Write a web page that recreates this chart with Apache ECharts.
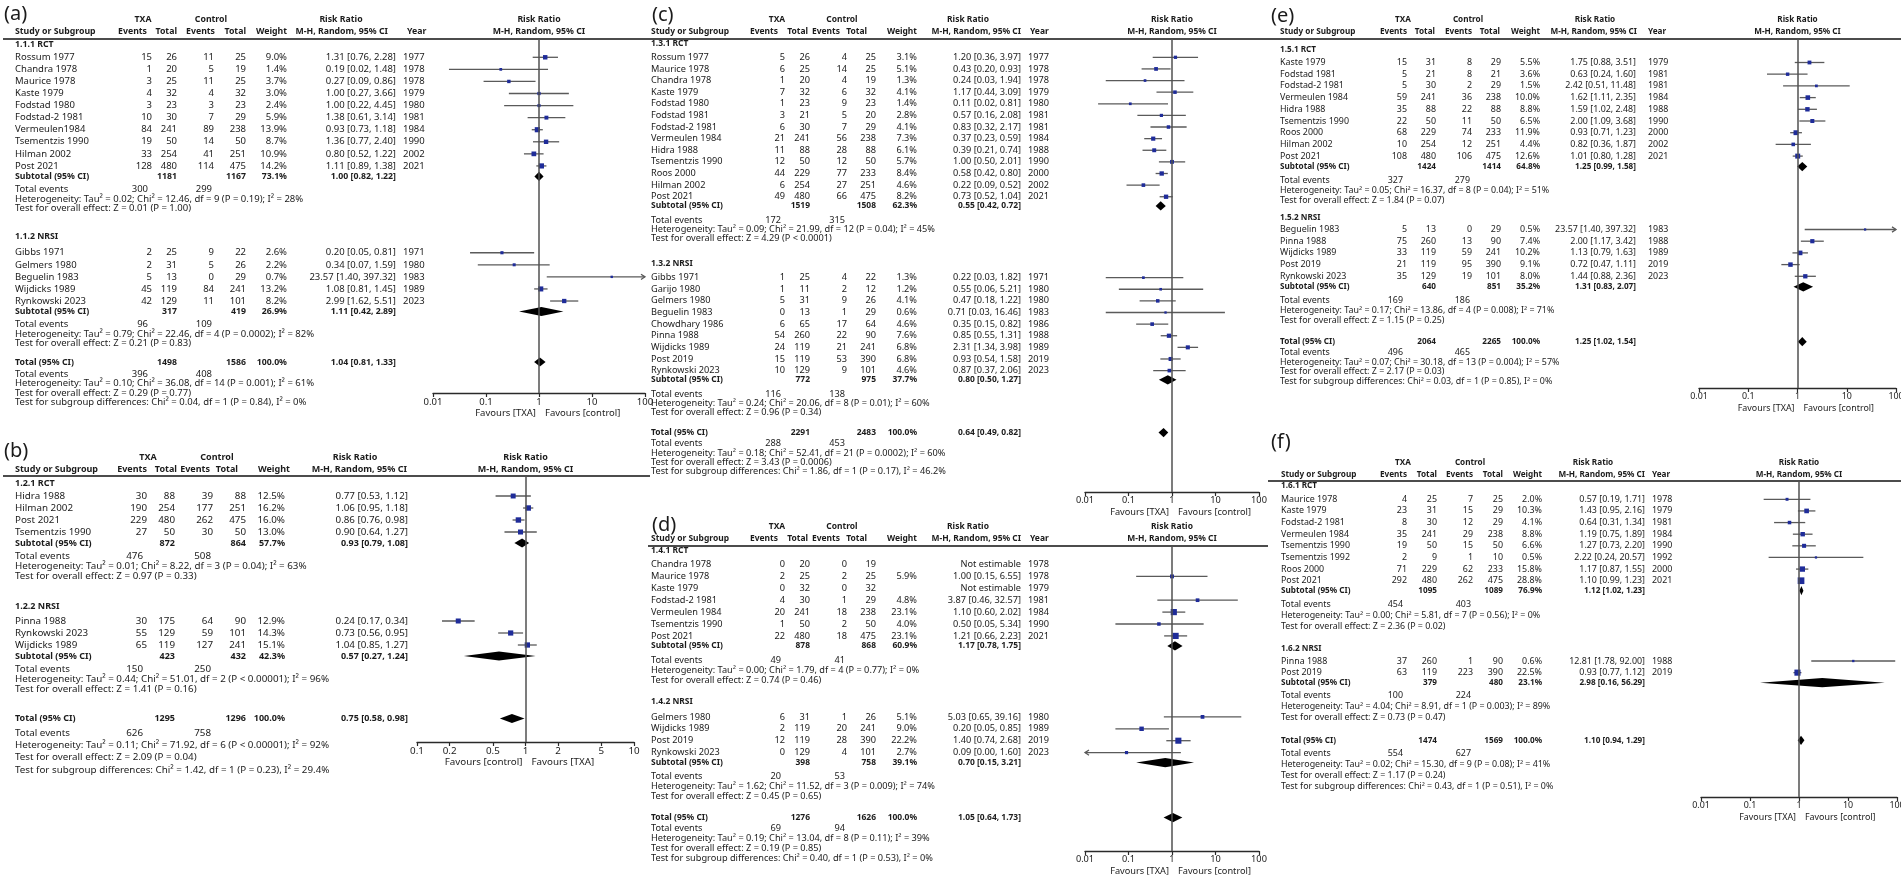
<!DOCTYPE html>
<html><head><meta charset="utf-8">
<script src="https://cdn.jsdelivr.net/npm/echarts@6/dist/echarts.min.js"></script>
<style>html,body{margin:0;padding:0;background:#fff}#c{width:1901px;height:880px}</style>
</head><body><div id="c"></div><script>
// ---------------- DATA ----------------
// study rows: [name, TXA events, TXA total, control events, control total, weight %, RR, lower, upper, year]
// subtotal: [TXA total, control total, weight %, RR, lower, upper, TXA events, control events]
const HEAD_TOP = ['TXA', 'Control', 'Risk Ratio'];
const HEAD_COLS = ['Study or Subgroup', 'Events', 'Total', 'Events', 'Total', 'Weight', 'M-H, Random, 95% CI', 'Year'];
const PLOT_HEAD = ['Risk Ratio', 'M-H, Random, 95% CI'];
const FAV_TXA_FIRST = ['Favours [TXA]', 'Favours [control]'];
const FAV_CONTROL_FIRST = ['Favours [control]', 'Favours [TXA]'];
const TICKS_DECADES = [0.01, 0.1, 1, 10, 100];
const TICKS_FINE = [0.1, 0.2, 0.5, 1, 2, 5, 10];

// (a)
const A_GROUPS = ['1.1.1 RCT', '1.1.2 NRSI'];
const A_RCT = [
  ['Rossum 1977', 15, 26, 11, 25, 9.0, 1.31, 0.76, 2.28, 1977],
  ['Chandra 1978', 1, 20, 5, 19, 1.4, 0.19, 0.02, 1.48, 1978],
  ['Maurice 1978', 3, 25, 11, 25, 3.7, 0.27, 0.09, 0.86, 1978],
  ['Kaste 1979', 4, 32, 4, 32, 3.0, 1.00, 0.27, 3.66, 1979],
  ['Fodstad 1980', 3, 23, 3, 23, 2.4, 1.00, 0.22, 4.45, 1980],
  ['Fodstad-2 1981', 10, 30, 7, 29, 5.9, 1.38, 0.61, 3.14, 1981],
  ['Vermeulen1984', 84, 241, 89, 238, 13.9, 0.93, 0.73, 1.18, 1984],
  ['Tsementzis 1990', 19, 50, 14, 50, 8.7, 1.36, 0.77, 2.40, 1990],
  ['Hilman 2002', 33, 254, 41, 251, 10.9, 0.80, 0.52, 1.22, 2002],
  ['Post 2021', 128, 480, 114, 475, 14.2, 1.11, 0.89, 1.38, 2021]
];
const A_RCT_SUB = [1181, 1167, 73.1, 1.00, 0.82, 1.22, 300, 299];
const A_RCT_STATS = ['Tau² = 0.02; Chi² = 12.46, df = 9 (P = 0.19); I² = 28%', 'Z = 0.01 (P = 1.00)'];
const A_NRSI = [
  ['Gibbs 1971', 2, 25, 9, 22, 2.6, 0.20, 0.05, 0.81, 1971],
  ['Gelmers 1980', 2, 31, 5, 26, 2.2, 0.34, 0.07, 1.59, 1980],
  ['Beguelin 1983', 5, 13, 0, 29, 0.7, 23.57, 1.40, 397.32, 1983],
  ['Wijdicks 1989', 45, 119, 84, 241, 13.2, 1.08, 0.81, 1.45, 1989],
  ['Rynkowski 2023', 42, 129, 11, 101, 8.2, 2.99, 1.62, 5.51, 2023]
];
const A_NRSI_SUB = [317, 419, 26.9, 1.11, 0.42, 2.89, 96, 109];
const A_NRSI_STATS = ['Tau² = 0.79; Chi² = 22.46, df = 4 (P = 0.0002); I² = 82%', 'Z = 0.21 (P = 0.83)'];
const A_TOTAL = [1498, 1586, 100.0, 1.04, 0.81, 1.33, 396, 408];
const A_TOTAL_STATS = ['Tau² = 0.10; Chi² = 36.08, df = 14 (P = 0.001); I² = 61%', 'Z = 0.29 (P = 0.77)', 'Chi² = 0.04, df = 1 (P = 0.84), I² = 0%'];

// (b)
const B_GROUPS = ['1.2.1 RCT', '1.2.2 NRSI'];
const B_RCT = [
  ['Hidra 1988', 30, 88, 39, 88, 12.5, 0.77, 0.53, 1.12, null],
  ['Hilman 2002', 190, 254, 177, 251, 16.2, 1.06, 0.95, 1.18, null],
  ['Post 2021', 229, 480, 262, 475, 16.0, 0.86, 0.76, 0.98, null],
  ['Tsementzis 1990', 27, 50, 30, 50, 13.0, 0.90, 0.64, 1.27, null]
];
const B_RCT_SUB = [872, 864, 57.7, 0.93, 0.79, 1.08, 476, 508];
const B_RCT_STATS = ['Tau² = 0.01; Chi² = 8.22, df = 3 (P = 0.04); I² = 63%', 'Z = 0.97 (P = 0.33)'];
const B_NRSI = [
  ['Pinna 1988', 30, 175, 64, 90, 12.9, 0.24, 0.17, 0.34, null],
  ['Rynkowski 2023', 55, 129, 59, 101, 14.3, 0.73, 0.56, 0.95, null],
  ['Wijdicks 1989', 65, 119, 127, 241, 15.1, 1.04, 0.85, 1.27, null]
];
const B_NRSI_SUB = [423, 432, 42.3, 0.57, 0.27, 1.24, 150, 250];
const B_NRSI_STATS = ['Tau² = 0.44; Chi² = 51.01, df = 2 (P < 0.00001); I² = 96%', 'Z = 1.41 (P = 0.16)'];
const B_TOTAL = [1295, 1296, 100.0, 0.75, 0.58, 0.98, 626, 758];
const B_TOTAL_STATS = ['Tau² = 0.11; Chi² = 71.92, df = 6 (P < 0.00001); I² = 92%', 'Z = 2.09 (P = 0.04)', 'Chi² = 1.42, df = 1 (P = 0.23), I² = 29.4%'];

// (c)
const C_GROUPS = ['1.3.1 RCT', '1.3.2 NRSI'];
const C_RCT = [
  ['Rossum 1977', 5, 26, 4, 25, 3.1, 1.20, 0.36, 3.97, 1977],
  ['Maurice 1978', 6, 25, 14, 25, 5.1, 0.43, 0.20, 0.93, 1978],
  ['Chandra 1978', 1, 20, 4, 19, 1.3, 0.24, 0.03, 1.94, 1978],
  ['Kaste 1979', 7, 32, 6, 32, 4.1, 1.17, 0.44, 3.09, 1979],
  ['Fodstad 1980', 1, 23, 9, 23, 1.4, 0.11, 0.02, 0.81, 1980],
  ['Fodstad 1981', 3, 21, 5, 20, 2.8, 0.57, 0.16, 2.08, 1981],
  ['Fodstad-2 1981', 6, 30, 7, 29, 4.1, 0.83, 0.32, 2.17, 1981],
  ['Vermeulen 1984', 21, 241, 56, 238, 7.3, 0.37, 0.23, 0.59, 1984],
  ['Hidra 1988', 11, 88, 28, 88, 6.1, 0.39, 0.21, 0.74, 1988],
  ['Tsementzis 1990', 12, 50, 12, 50, 5.7, 1.00, 0.50, 2.01, 1990],
  ['Roos 2000', 44, 229, 77, 233, 8.4, 0.58, 0.42, 0.80, 2000],
  ['Hilman 2002', 6, 254, 27, 251, 4.6, 0.22, 0.09, 0.52, 2002],
  ['Post 2021', 49, 480, 66, 475, 8.2, 0.73, 0.52, 1.04, 2021]
];
const C_RCT_SUB = [1519, 1508, 62.3, 0.55, 0.42, 0.72, 172, 315];
const C_RCT_STATS = ['Tau² = 0.09; Chi² = 21.99, df = 12 (P = 0.04); I² = 45%', 'Z = 4.29 (P < 0.0001)'];
const C_NRSI = [
  ['Gibbs 1971', 1, 25, 4, 22, 1.3, 0.22, 0.03, 1.82, 1971],
  ['Garijo 1980', 1, 11, 2, 12, 1.2, 0.55, 0.06, 5.21, 1980],
  ['Gelmers 1980', 5, 31, 9, 26, 4.1, 0.47, 0.18, 1.22, 1980],
  ['Beguelin 1983', 0, 13, 1, 29, 0.6, 0.71, 0.03, 16.46, 1983],
  ['Chowdhary 1986', 6, 65, 17, 64, 4.6, 0.35, 0.15, 0.82, 1986],
  ['Pinna 1988', 54, 260, 22, 90, 7.6, 0.85, 0.55, 1.31, 1988],
  ['Wijdicks 1989', 24, 119, 21, 241, 6.8, 2.31, 1.34, 3.98, 1989],
  ['Post 2019', 15, 119, 53, 390, 6.8, 0.93, 0.54, 1.58, 2019],
  ['Rynkowski 2023', 10, 129, 9, 101, 4.6, 0.87, 0.37, 2.06, 2023]
];
const C_NRSI_SUB = [772, 975, 37.7, 0.80, 0.50, 1.27, 116, 138];
const C_NRSI_STATS = ['Tau² = 0.24; Chi² = 20.06, df = 8 (P = 0.01); I² = 60%', 'Z = 0.96 (P = 0.34)'];
const C_TOTAL = [2291, 2483, 100.0, 0.64, 0.49, 0.82, 288, 453];
const C_TOTAL_STATS = ['Tau² = 0.18; Chi² = 52.41, df = 21 (P = 0.0002); I² = 60%', 'Z = 3.43 (P = 0.0006)', 'Chi² = 1.86, df = 1 (P = 0.17), I² = 46.2%'];

// (d)
const D_GROUPS = ['1.4.1 RCT', '1.4.2 NRSI'];
const D_RCT = [
  ['Chandra 1978', 0, 20, 0, 19, null, null, null, null, 1978],
  ['Maurice 1978', 2, 25, 2, 25, 5.9, 1.00, 0.15, 6.55, 1978],
  ['Kaste 1979', 0, 32, 0, 32, null, null, null, null, 1979],
  ['Fodstad-2 1981', 4, 30, 1, 29, 4.8, 3.87, 0.46, 32.57, 1981],
  ['Vermeulen 1984', 20, 241, 18, 238, 23.1, 1.10, 0.60, 2.02, 1984],
  ['Tsementzis 1990', 1, 50, 2, 50, 4.0, 0.50, 0.05, 5.34, 1990],
  ['Post 2021', 22, 480, 18, 475, 23.1, 1.21, 0.66, 2.23, 2021]
];
const D_RCT_SUB = [878, 868, 60.9, 1.17, 0.78, 1.75, 49, 41];
const D_RCT_STATS = ['Tau² = 0.00; Chi² = 1.79, df = 4 (P = 0.77); I² = 0%', 'Z = 0.74 (P = 0.46)'];
const D_NRSI = [
  ['Gelmers 1980', 6, 31, 1, 26, 5.1, 5.03, 0.65, 39.16, 1980],
  ['Wijdicks 1989', 2, 119, 20, 241, 9.0, 0.20, 0.05, 0.85, 1989],
  ['Post 2019', 12, 119, 28, 390, 22.2, 1.40, 0.74, 2.68, 2019],
  ['Rynkowski 2023', 0, 129, 4, 101, 2.7, 0.09, 0.00, 1.60, 2023]
];
const D_NRSI_SUB = [398, 758, 39.1, 0.70, 0.15, 3.21, 20, 53];
const D_NRSI_STATS = ['Tau² = 1.62; Chi² = 11.52, df = 3 (P = 0.009); I² = 74%', 'Z = 0.45 (P = 0.65)'];
const D_TOTAL = [1276, 1626, 100.0, 1.05, 0.64, 1.73, 69, 94];
const D_TOTAL_STATS = ['Tau² = 0.19; Chi² = 13.04, df = 8 (P = 0.11); I² = 39%', 'Z = 0.19 (P = 0.85)', 'Chi² = 0.40, df = 1 (P = 0.53), I² = 0%'];

// (e)
const E_GROUPS = ['1.5.1 RCT', '1.5.2 NRSI'];
const E_RCT = [
  ['Kaste 1979', 15, 31, 8, 29, 5.5, 1.75, 0.88, 3.51, 1979],
  ['Fodstad 1981', 5, 21, 8, 21, 3.6, 0.63, 0.24, 1.60, 1981],
  ['Fodstad-2 1981', 5, 30, 2, 29, 1.5, 2.42, 0.51, 11.48, 1981],
  ['Vermeulen 1984', 59, 241, 36, 238, 10.0, 1.62, 1.11, 2.35, 1984],
  ['Hidra 1988', 35, 88, 22, 88, 8.8, 1.59, 1.02, 2.48, 1988],
  ['Tsementzis 1990', 22, 50, 11, 50, 6.5, 2.00, 1.09, 3.68, 1990],
  ['Roos 2000', 68, 229, 74, 233, 11.9, 0.93, 0.71, 1.23, 2000],
  ['Hilman 2002', 10, 254, 12, 251, 4.4, 0.82, 0.36, 1.87, 2002],
  ['Post 2021', 108, 480, 106, 475, 12.6, 1.01, 0.80, 1.28, 2021]
];
const E_RCT_SUB = [1424, 1414, 64.8, 1.25, 0.99, 1.58, 327, 279];
const E_RCT_STATS = ['Tau² = 0.05; Chi² = 16.37, df = 8 (P = 0.04); I² = 51%', 'Z = 1.84 (P = 0.07)'];
const E_NRSI = [
  ['Beguelin 1983', 5, 13, 0, 29, 0.5, 23.57, 1.40, 397.32, 1983],
  ['Pinna 1988', 75, 260, 13, 90, 7.4, 2.00, 1.17, 3.42, 1988],
  ['Wijdicks 1989', 33, 119, 59, 241, 10.2, 1.13, 0.79, 1.63, 1989],
  ['Post 2019', 21, 119, 95, 390, 9.1, 0.72, 0.47, 1.11, 2019],
  ['Rynkowski 2023', 35, 129, 19, 101, 8.0, 1.44, 0.88, 2.36, 2023]
];
const E_NRSI_SUB = [640, 851, 35.2, 1.31, 0.83, 2.07, 169, 186];
const E_NRSI_STATS = ['Tau² = 0.17; Chi² = 13.86, df = 4 (P = 0.008); I² = 71%', 'Z = 1.15 (P = 0.25)'];
const E_TOTAL = [2064, 2265, 100.0, 1.25, 1.02, 1.54, 496, 465];
const E_TOTAL_STATS = ['Tau² = 0.07; Chi² = 30.18, df = 13 (P = 0.004); I² = 57%', 'Z = 2.17 (P = 0.03)', 'Chi² = 0.03, df = 1 (P = 0.85), I² = 0%'];

// (f)
const F_GROUPS = ['1.6.1 RCT', '1.6.2 NRSI'];
const F_RCT = [
  ['Maurice 1978', 4, 25, 7, 25, 2.0, 0.57, 0.19, 1.71, 1978],
  ['Kaste 1979', 23, 31, 15, 29, 10.3, 1.43, 0.95, 2.16, 1979],
  ['Fodstad-2 1981', 8, 30, 12, 29, 4.1, 0.64, 0.31, 1.34, 1981],
  ['Vermeulen 1984', 35, 241, 29, 238, 8.8, 1.19, 0.75, 1.89, 1984],
  ['Tsementzis 1990', 19, 50, 15, 50, 6.6, 1.27, 0.73, 2.20, 1990],
  ['Tsementzis 1992', 2, 9, 1, 10, 0.5, 2.22, 0.24, 20.57, 1992],
  ['Roos 2000', 71, 229, 62, 233, 15.8, 1.17, 0.87, 1.55, 2000],
  ['Post 2021', 292, 480, 262, 475, 28.8, 1.10, 0.99, 1.23, 2021]
];
const F_RCT_SUB = [1095, 1089, 76.9, 1.12, 1.02, 1.23, 454, 403];
const F_RCT_STATS = ['Tau² = 0.00; Chi² = 5.81, df = 7 (P = 0.56); I² = 0%', 'Z = 2.36 (P = 0.02)'];
const F_NRSI = [
  ['Pinna 1988', 37, 260, 1, 90, 0.6, 12.81, 1.78, 92.00, 1988],
  ['Post 2019', 63, 119, 223, 390, 22.5, 0.93, 0.77, 1.12, 2019]
];
const F_NRSI_SUB = [379, 480, 23.1, 2.98, 0.16, 56.29, 100, 224];
const F_NRSI_STATS = ['Tau² = 4.04; Chi² = 8.91, df = 1 (P = 0.003); I² = 89%', 'Z = 0.73 (P = 0.47)'];
const F_TOTAL = [1474, 1569, 100.0, 1.10, 0.94, 1.29, 554, 627];
const F_TOTAL_STATS = ['Tau² = 0.02; Chi² = 15.30, df = 9 (P = 0.08); I² = 41%', 'Z = 1.17 (P = 0.24)', 'Chi² = 0.43, df = 1 (P = 0.51), I² = 0%'];

// ---------------- PANELS (composition of the arrays above) ----------------
const PANELS = [
  { label: '(a)', groups: A_GROUPS, subs: [A_RCT, A_NRSI], sums: [A_RCT_SUB, A_NRSI_SUB], stats: [A_RCT_STATS, A_NRSI_STATS], total: A_TOTAL, totalStats: A_TOTAL_STATS, ticks: TICKS_DECADES, fav: FAV_TXA_FIRST },
  { label: '(b)', groups: B_GROUPS, subs: [B_RCT, B_NRSI], sums: [B_RCT_SUB, B_NRSI_SUB], stats: [B_RCT_STATS, B_NRSI_STATS], total: B_TOTAL, totalStats: B_TOTAL_STATS, ticks: TICKS_FINE, fav: FAV_CONTROL_FIRST },
  { label: '(c)', groups: C_GROUPS, subs: [C_RCT, C_NRSI], sums: [C_RCT_SUB, C_NRSI_SUB], stats: [C_RCT_STATS, C_NRSI_STATS], total: C_TOTAL, totalStats: C_TOTAL_STATS, ticks: TICKS_DECADES, fav: FAV_TXA_FIRST },
  { label: '(d)', groups: D_GROUPS, subs: [D_RCT, D_NRSI], sums: [D_RCT_SUB, D_NRSI_SUB], stats: [D_RCT_STATS, D_NRSI_STATS], total: D_TOTAL, totalStats: D_TOTAL_STATS, ticks: TICKS_DECADES, fav: FAV_TXA_FIRST },
  { label: '(e)', groups: E_GROUPS, subs: [E_RCT, E_NRSI], sums: [E_RCT_SUB, E_NRSI_SUB], stats: [E_RCT_STATS, E_NRSI_STATS], total: E_TOTAL, totalStats: E_TOTAL_STATS, ticks: TICKS_DECADES, fav: FAV_TXA_FIRST },
  { label: '(f)', groups: F_GROUPS, subs: [F_RCT, F_NRSI], sums: [F_RCT_SUB, F_NRSI_SUB], stats: [F_RCT_STATS, F_NRSI_STATS], total: F_TOTAL, totalStats: F_TOTAL_STATS, ticks: TICKS_DECADES, fav: FAV_TXA_FIRST }
];

// ---------------- LAYOUT (positions / sizes only) ----------------
const colsCD = { name: 651, evT: 785, totT: 810, evC: 847, totC: 876, w: 917, rr: 1021, yr: 1028 };
const hcolsCD = { evT: 778, totT: 808, evC: 840, totC: 867, w: 917, rr: 1021, yr: 1030 };
const LAYOUT = [
  { lab: [4, 14], fs: 9.5, yU: 39, r1: -19, r2: -7, ul: [3, 648],
    col: { name: 15, evT: 152, totT: 177, evC: 214, totC: 246, w: 287, rr: 396, yr: 403 },
    hcol: { evT: 147, totT: 177, evC: 215, totC: 246, w: 287, rr: 388, yr: 407 },
    htop: { txa: 143, ctl: 211, rr: 341 },
    plot: { left: 433, width: 212, axisY: 393, min: 0.01, max: 100, custom: false },
    g: { hdr1: 6, first: [12.3, 16], p: 12.07, sub: 10.5, te: 13.2, h: 9.4, grp: 28.3, tot: 18.5, te2: 12, h2: 9.4 } },
  { lab: [4, 451], fs: 9.8, yU: 476, r1: -19, r2: -7, ul: [3, 650],
    col: { name: 15, evT: 147, totT: 175, evC: 213, totC: 246, w: 285, rr: 408, yr: null },
    hcol: { evT: 147, totT: 177, evC: 210, totC: 238, w: 290, rr: 407, yr: null },
    htop: { txa: 148, ctl: 217, rr: 355 },
    plot: { left: 417, width: 217, axisY: 742, min: 0.1, max: 10, custom: true },
    g: { hdr1: 7, first: [13, 15], p: 12, sub: 11, te: 13.5, h: 10, grp: 29.5, tot: 29, te2: 14.5, h2: 12.3 } },
  { lab: [652, 15], fs: 9.2, yU: 39, r1: -19, r2: -7, ul: [648, 1268],
    col: colsCD, hcol: hcolsCD, htop: { txa: 777, ctl: 842, rr: 968 },
    plot: { left: 1085, width: 174, axisY: 492, min: 0.01, max: 100, custom: false },
    g: { hdr1: 4.3, first: [14, 14.4], p: 11.62, sub: 9.2, te: 14.2, h: 9.3, grp: 24.5, tot: 20, te2: 11, h2: 9.3 } },
  { lab: [652, 525], fs: 9.2, yU: 546, r1: -19, r2: -7, ul: [648, 1268],
    col: colsCD, hcol: hcolsCD, htop: { txa: 777, ctl: 842, rr: 968 },
    plot: { left: 1085, width: 174, axisY: 851, min: 0.01, max: 100, custom: false },
    g: { hdr1: 5, first: [13.5, 15], p: 11.9, sub: 10, te: 14, h: 10, grp: 22, tot: 21, te2: 11, h2: 10 } },
  { lab: [1271, 16], fs: 8.9, yU: 39, r1: -19, r2: -7, ul: [1268, 1901],
    col: { name: 1280, evT: 1407, totT: 1436, evC: 1472, totC: 1501, w: 1540, rr: 1636, yr: 1648 },
    hcol: { evT: 1407, totT: 1435, evC: 1472, totC: 1500, w: 1540, rr: 1637, yr: 1648 },
    htop: { txa: 1403, ctl: 1468, rr: 1595 },
    plot: { left: 1699, width: 197, axisY: 388, min: 0.01, max: 100, custom: false },
    g: { hdr1: 11, first: [12.5, 11.5], p: 11.7, sub: 10.5, te: 14, h: 9.7, grp: 18, tot: 21.5, te2: 10.6, h2: 9.7 } },
  { lab: [1271, 442], fs: 8.9, yU: 481, r1: -18, r2: -6, ul: [1268, 1901],
    col: { name: 1281, evT: 1407, totT: 1437, evC: 1473, totC: 1503, w: 1542, rr: 1645, yr: 1652 },
    hcol: { evT: 1407, totT: 1437, evC: 1473, totC: 1503, w: 1542, rr: 1645, yr: 1652 },
    htop: { txa: 1403, ctl: 1470, rr: 1593 },
    plot: { left: 1701, width: 196, axisY: 797, min: 0.01, max: 100, custom: false },
    g: { hdr1: 5, first: [13.3, 12.7], p: 11.63, sub: 10, te: 13.3, h: 11, grp: 22.3, tot: 22.4, te2: 13.3, h2: 11 } }
];

const FONT = "'Noto Sans', 'DejaVu Sans', sans-serif";
const INK = '#1b1b1b';
const CI_COLOR = '#5a5a5a';
const SQUARE = '#1f2c99';
const BOLD_SCALE = 0.92;

function fmtRR(rr, lo, hi) { return rr.toFixed(2) + ' [' + lo.toFixed(2) + ', ' + hi.toFixed(2) + ']'; }

function buildLines(P, L) {
  const g = L.g, out = [];
  out.push({ k: 'head', y: L.yU });
  let y = L.yU + g.hdr1;
  for (let gi = 0; gi < 2; gi++) {
    if (gi === 1) y += g.grp;
    out.push({ k: 'grp', y, text: P.groups[gi] });
    P.subs[gi].forEach((r, i) => { y += (i === 0 ? g.first[gi] : g.p); out.push({ k: 'study', y, r }); });
    y += g.sub; out.push({ k: 'sub', y, s: P.sums[gi], text: 'Subtotal (95% CI)' });
    y += g.te; out.push({ k: 'te', y, s: P.sums[gi] });
    y += g.h; out.push({ k: 'txt', y, text: 'Heterogeneity: ' + P.stats[gi][0] });
    y += g.h; out.push({ k: 'txt', y, text: 'Test for overall effect: ' + P.stats[gi][1] });
  }
  y += g.tot; out.push({ k: 'sub', y, s: P.total, text: 'Total (95% CI)' });
  y += g.te2; out.push({ k: 'te', y, s: P.total });
  y += g.h2; out.push({ k: 'txt', y, text: 'Heterogeneity: ' + P.totalStats[0] });
  y += g.h2; out.push({ k: 'txt', y, text: 'Test for overall effect: ' + P.totalStats[1] });
  y += g.h2; out.push({ k: 'txt', y, text: 'Test for subgroup differences: ' + P.totalStats[2] });
  out.push({ k: 'fav', y: L.plot.axisY + 20 });
  return out;
}

function tableRenderer(P, L, lines) {
  return function (params, api) {
    const l = lines[params.dataIndex];
    const pt = api.coord([1, l.y - L.yU]);
    const y = pt[1], x1 = pt[0];
    const c = L.col, kids = [];
    const T = (s, x, yy, align, bold, size) => kids.push({ type: 'text', silent: true, style: {
      text: String(s), x: x, y: yy, align: align, verticalAlign: 'middle', fontFamily: FONT,
      fontSize: size || (bold ? L.fs * BOLD_SCALE : L.fs), fontWeight: bold ? 'bold' : 'normal', fill: INK } });
    if (l.k === 'head') {
      const y1 = y + L.r1, y2 = y + L.r2, h = L.hcol;
      T(P.label, L.lab[0], L.lab[1], 'left', false, 20);
      T(HEAD_TOP[0], L.htop.txa, y1, 'center', true);
      T(HEAD_TOP[1], L.htop.ctl, y1, 'center', true);
      T(HEAD_TOP[2], L.htop.rr, y1, 'center', true);
      T(PLOT_HEAD[0], x1, y1, 'center', true);
      T(PLOT_HEAD[1], x1, y2, 'center', true);
      T(HEAD_COLS[0], c.name, y2, 'left', true);
      T(HEAD_COLS[1], h.evT, y2, 'right', true);
      T(HEAD_COLS[2], h.totT, y2, 'right', true);
      T(HEAD_COLS[3], h.evC, y2, 'right', true);
      T(HEAD_COLS[4], h.totC, y2, 'right', true);
      T(HEAD_COLS[5], h.w, y2, 'right', true);
      T(HEAD_COLS[6], h.rr, y2, 'right', true);
      if (h.yr != null) T(HEAD_COLS[7], h.yr, y2, 'left', true);
      kids.push({ type: 'line', silent: true, shape: { x1: L.ul[0], y1: y, x2: L.ul[1], y2: y }, style: { stroke: '#111', lineWidth: 1.5 } });
    } else if (l.k === 'grp') {
      T(l.text, c.name, y, 'left', true);
    } else if (l.k === 'study') {
      const r = l.r;
      T(r[0], c.name, y, 'left');
      T(r[1], c.evT, y, 'right'); T(r[2], c.totT, y, 'right');
      T(r[3], c.evC, y, 'right'); T(r[4], c.totC, y, 'right');
      if (r[5] != null) T(r[5].toFixed(1) + '%', c.w, y, 'right');
      T(r[6] == null ? 'Not estimable' : fmtRR(r[6], r[7], r[8]), c.rr, y, 'right');
      if (c.yr != null && r[9] != null) T(r[9], c.yr, y, 'left');
    } else if (l.k === 'sub') {
      const s = l.s;
      T(l.text, c.name, y, 'left', true);
      T(s[0], c.totT, y, 'right', true); T(s[1], c.totC, y, 'right', true);
      T(s[2].toFixed(1) + '%', c.w, y, 'right', true);
      T(fmtRR(s[3], s[4], s[5]), c.rr, y, 'right', true);
    } else if (l.k === 'te') {
      T('Total events', c.name, y, 'left');
      T(l.s[6], c.evT - 4, y, 'right'); T(l.s[7], c.evC - 2, y, 'right');
    } else if (l.k === 'txt') {
      T(l.text, c.name, y, 'left');
    } else if (l.k === 'fav') {
      T(P.fav[0], x1 - 3, y, 'right');
      T(P.fav[1], x1 + 6, y, 'left');
    }
    return { type: 'group', children: kids };
  };
}

function renderForest(params, api) {
  const lo = api.value(0), hi = api.value(1), est = api.value(2), yv = api.value(3), w = api.value(4), kind = api.value(5);
  const cs = params.coordSys;
  const xmin = cs.x, xmax = cs.x + cs.width;
  const y = api.coord([1, yv])[1];
  const px = v => (v > 0 ? api.coord([v, yv])[0] : -Infinity);
  let a = px(lo), b = px(hi);
  const e = px(est);
  const kids = [];
  if (kind === 1) {
    const hh = 4.6;
    kids.push({ type: 'polygon', shape: { points: [[a, y], [e, y - hh], [b, y], [e, y + hh]] }, style: { fill: '#000' } });
  } else {
    const clipL = a < xmin, clipR = b > xmax;
    a = Math.max(a, xmin); b = Math.min(b, xmax);
    kids.push({ type: 'line', shape: { x1: a, y1: y, x2: b, y2: y }, style: { stroke: CI_COLOR, lineWidth: 1.3 } });
    if (clipL) kids.push({ type: 'polyline', shape: { points: [[a + 4, y - 2.6], [a, y], [a + 4, y + 2.6]] }, style: { stroke: CI_COLOR, lineWidth: 1.3, fill: null } });
    if (clipR) kids.push({ type: 'polyline', shape: { points: [[b - 4, y - 2.6], [b, y], [b - 4, y + 2.6]] }, style: { stroke: CI_COLOR, lineWidth: 1.3, fill: null } });
    const s = 1.6 + 0.95 * Math.sqrt(w);
    kids.push({ type: 'rect', shape: { x: e - s / 2, y: y - s / 2, width: s, height: s }, style: { fill: SQUARE } });
  }
  return { type: 'group', children: kids };
}

const grids = [], xAxes = [], yAxes = [], series = [];
PANELS.forEach((P, i) => {
  const L = LAYOUT[i], pl = L.plot;
  const lines = buildLines(P, L);
  grids.push({ left: pl.left, top: L.yU, width: pl.width, height: pl.axisY - L.yU, containLabel: false, outerBoundsMode: 'none' });
  const tickExtra = pl.custom ? { customValues: P.ticks } : {};
  xAxes.push({
    type: 'log', logBase: 10, gridIndex: i, min: pl.min, max: pl.max, position: 'bottom',
    axisLine: { show: true, onZero: false, lineStyle: { color: '#2a2a2a', width: 1.3 } },
    axisTick: Object.assign({ show: true, length: 4, lineStyle: { color: '#2a2a2a', width: 1.2 } }, tickExtra),
    axisLabel: Object.assign({ show: true, margin: 4, fontSize: L.fs, fontFamily: FONT, color: INK, showMinLabel: true, showMaxLabel: true, hideOverlap: false,
      formatter: v => String(+Number(v).toPrecision(6)) }, tickExtra),
    splitLine: { show: false }, minorTick: { show: false }, minorSplitLine: { show: false }
  });
  yAxes.push({ type: 'value', gridIndex: i, min: 0, max: pl.axisY - L.yU, inverse: true, show: false });
  series.push({
    type: 'custom', name: 'table' + i, xAxisIndex: i, yAxisIndex: i, clip: false, silent: true, z: 3,
    renderItem: tableRenderer(P, L, lines),
    data: lines.map(l => [1, l.y - L.yU])
  });
  const forest = [];
  lines.forEach(l => {
    if (l.k === 'study' && l.r[6] != null) forest.push([l.r[7], l.r[8], l.r[6], l.y - L.yU, l.r[5], 0]);
    if (l.k === 'sub') forest.push([l.s[4], l.s[5], l.s[3], l.y - L.yU, 0, 1]);
  });
  series.push({
    type: 'custom', name: 'forest' + i, xAxisIndex: i, yAxisIndex: i, clip: false, silent: true, z: 4,
    encode: { x: [0, 1, 2], y: 3 },
    renderItem: renderForest, data: forest,
    markLine: { silent: true, symbol: ['none', 'none'], label: { show: false }, animation: false,
      lineStyle: { color: '#505050', width: 1.5, type: 'solid' }, emphasis: { disabled: true },
      data: [{ xAxis: 1 }] }
  });
});

const chart = echarts.init(document.getElementById('c'), null, { renderer: 'canvas' });
chart.setOption({ animation: false, backgroundColor: '#fff', grid: grids, xAxis: xAxes, yAxis: yAxes, series: series });
</script></body></html>
